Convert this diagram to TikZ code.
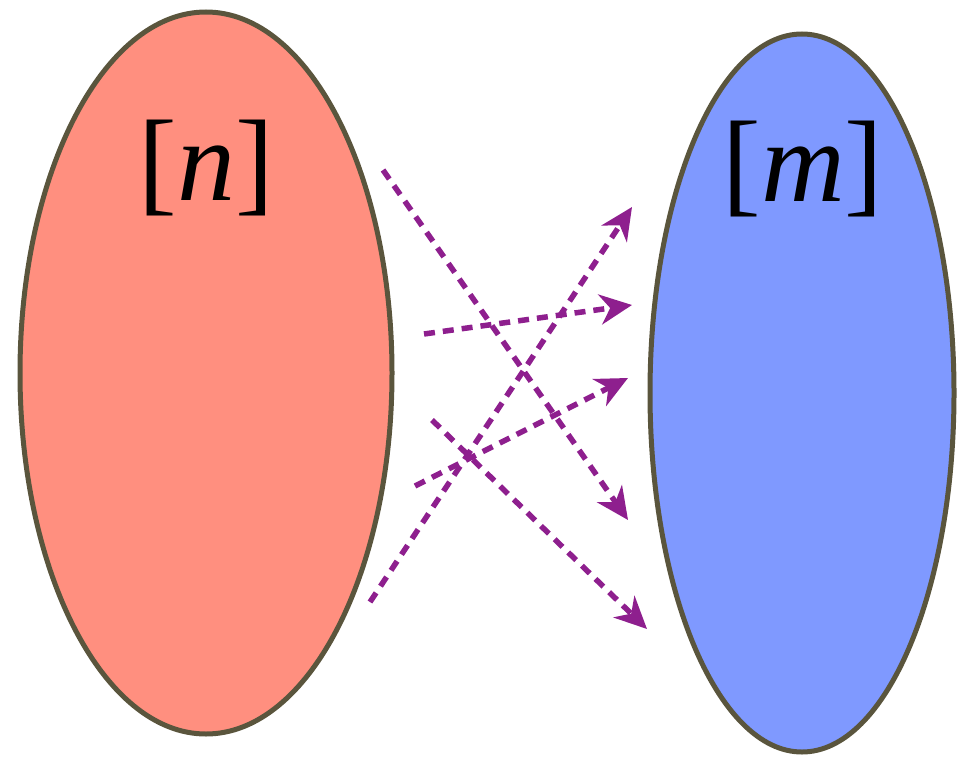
\documentclass[tikz,border=0pt]{standalone}
\usepackage{fontspec}
\setmainfont{Liberation Serif}
\usetikzlibrary{arrows.meta}
\definecolor{salmon}{HTML}{FF8F7F}
\definecolor{bluefill}{HTML}{7F99FF}
\definecolor{rim}{HTML}{5A553D}
\definecolor{arr}{HTML}{8E1F8E}
\tikzset{
  setshape/.style={draw=rim, line width=5pt},
  maparrow/.style={draw=arr, line width=5.5pt, dash pattern=on 11pt off 8pt,
    -{Stealth[length=32pt,width=30pt,inset=10pt]}},
  setlabel/.style={anchor=base, inner sep=0pt, font=\fontsize{116}{116}\selectfont}
}
\begin{document}
\begin{tikzpicture}[x=1pt,y=-1pt]
\useasboundingbox (0,0) rectangle (963,757);
\path[setshape, fill=salmon] (206,373) ellipse [x radius=186, y radius=361];
\path[setshape, fill=bluefill] (802,393) ellipse [x radius=152, y radius=359];
\node[setlabel] (ln) at (206,200) {[\textit{n}]};
\node[setlabel] (lm) at (803,201) {[\textit{m}]};
\coordinate (a1) at (383,170); \coordinate (b1) at (628,520);
\coordinate (a2) at (424,334); \coordinate (b2) at (632,305);
\coordinate (a3) at (432,420); \coordinate (b3) at (647,629);
\coordinate (a4) at (415,486); \coordinate (b4) at (628,378);
\coordinate (a5) at (370,602); \coordinate (b5) at (632,207);
\draw[maparrow] (a1) -- (b1);
\draw[maparrow] (a2) -- (b2);
\draw[maparrow] (a3) -- (b3);
\draw[maparrow] (a4) -- (b4);
\draw[maparrow] (a5) -- (b5);
\end{tikzpicture}
\end{document}
